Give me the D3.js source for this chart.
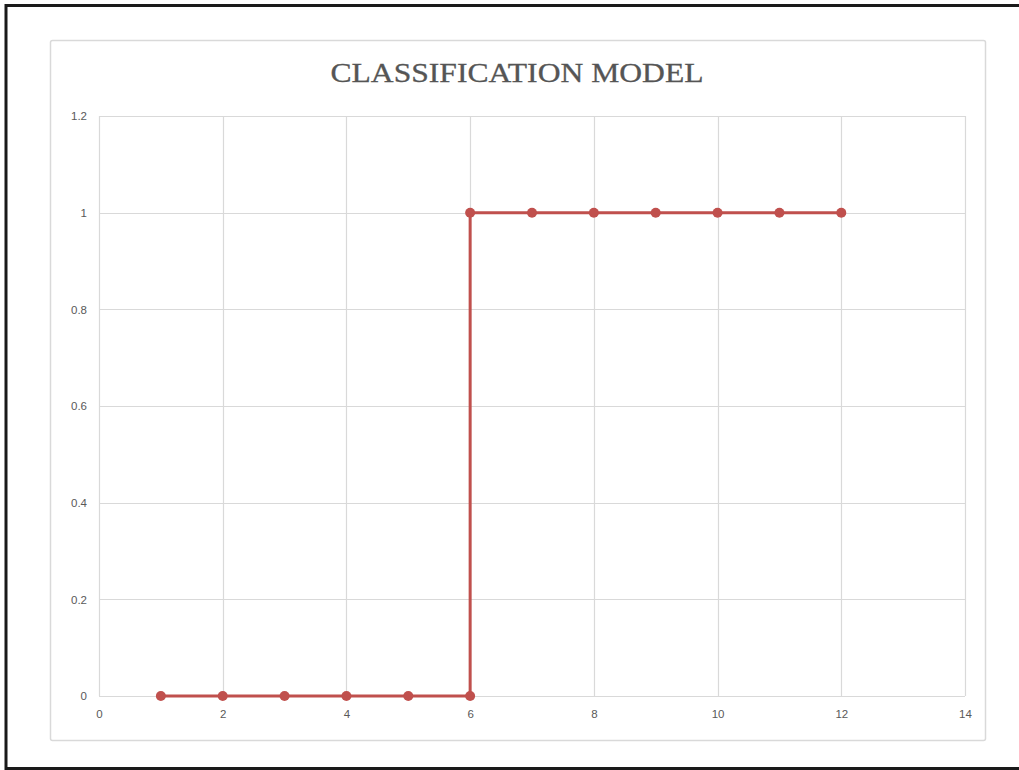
<!DOCTYPE html>
<html>
<head>
<meta charset="utf-8">
<script src="https://cdn.jsdelivr.net/npm/d3@7"></script>
<style>
  html, body { margin: 0; padding: 0; background: #fff; }
  svg { display: block; }
</style>
</head>
<body>
<svg id="chart" width="1019" height="770"></svg>
<script>
const title = "CLASSIFICATION MODEL";
const xValues = [1, 2, 3, 4, 5, 6, 6, 7, 8, 9, 10, 11, 12];
const yValues = [0, 0, 0, 0, 0, 0, 1, 1, 1, 1, 1, 1, 1];
const xTicks = [0, 2, 4, 6, 8, 10, 12, 14];
const yTicks = [0, 0.2, 0.4, 0.6, 0.8, 1, 1.2];

(function () {
const svg = d3.select("#chart");

// outer frame
svg.append("rect").attr("x", 6).attr("y", 5.5).attr("width", 1016).attr("height", 763)
  .attr("fill", "none").attr("stroke", "#1a1a1a").attr("stroke-width", 3);

// chart box
svg.append("rect").attr("x", 50.5).attr("y", 40.5).attr("width", 935).attr("height", 700)
  .attr("rx", 2).attr("fill", "#fff").attr("stroke", "#d9d9d9").attr("stroke-width", 1.5);

const pLeft = 99, pRight = 965, pTop = 116, pBottom = 696;
const x = d3.scaleLinear().domain([0, 14]).range([pLeft, pRight]);
const y = d3.scaleLinear().domain([0, 1.2]).range([pBottom, pTop]);

// gridlines
const g = svg.append("g");
g.selectAll("line.h").data(yTicks).enter().append("line")
  .attr("x1", pLeft).attr("x2", pRight)
  .attr("y1", d => Math.round(y(d)) + 0.5).attr("y2", d => Math.round(y(d)) + 0.5)
  .attr("stroke", "#d9d9d9").attr("stroke-width", 1.2);
g.selectAll("line.v").data(xTicks).enter().append("line")
  .attr("y1", pTop).attr("y2", pBottom)
  .attr("x1", d => Math.round(x(d)) + 0.5).attr("x2", d => Math.round(x(d)) + 0.5)
  .attr("stroke", "#d9d9d9").attr("stroke-width", 1.2);

// axes (labels only)
const xAxis = d3.axisBottom(x).tickValues(xTicks).tickSize(0).tickPadding(14).tickFormat(d3.format("d"));
const yAxis = d3.axisLeft(y).tickValues(yTicks).tickSize(0).tickPadding(12).tickFormat(d => String(+d.toFixed(1)));
const gx = svg.append("g").attr("transform", `translate(0,${pBottom})`).call(xAxis);
const gy = svg.append("g").attr("transform", `translate(${pLeft},0)`).call(yAxis);
[gx, gy].forEach(a => {
  a.select(".domain").remove();
  a.selectAll("text").attr("fill", "#595959").style("font-family", "Liberation Sans, Arial, sans-serif").style("font-size", "11.5px");
});

// title
svg.append("text").attr("x", 517).attr("y", 82).attr("text-anchor", "middle")
  .attr("fill", "#555").attr("stroke", "#555").attr("stroke-width", 0.3)
  .style("font-family", "'Liberation Serif', serif")
  .style("font-size", "27px").attr("textLength", 373).attr("lengthAdjust", "spacingAndGlyphs")
  .text(title);

// series
const pts = xValues.map((v, i) => [v, yValues[i]]);
const line = d3.line().x(d => x(d[0])).y(d => y(d[1]));
svg.append("path").datum(pts).attr("d", line).attr("fill", "none")
  .attr("stroke", "#c0504d").attr("stroke-width", 3);
svg.selectAll("circle.pt").data(pts).enter().append("circle")
  .attr("cx", d => x(d[0])).attr("cy", d => y(d[1])).attr("r", 5)
  .attr("fill", "#c0504d");
})();
</script>
</body>
</html>
